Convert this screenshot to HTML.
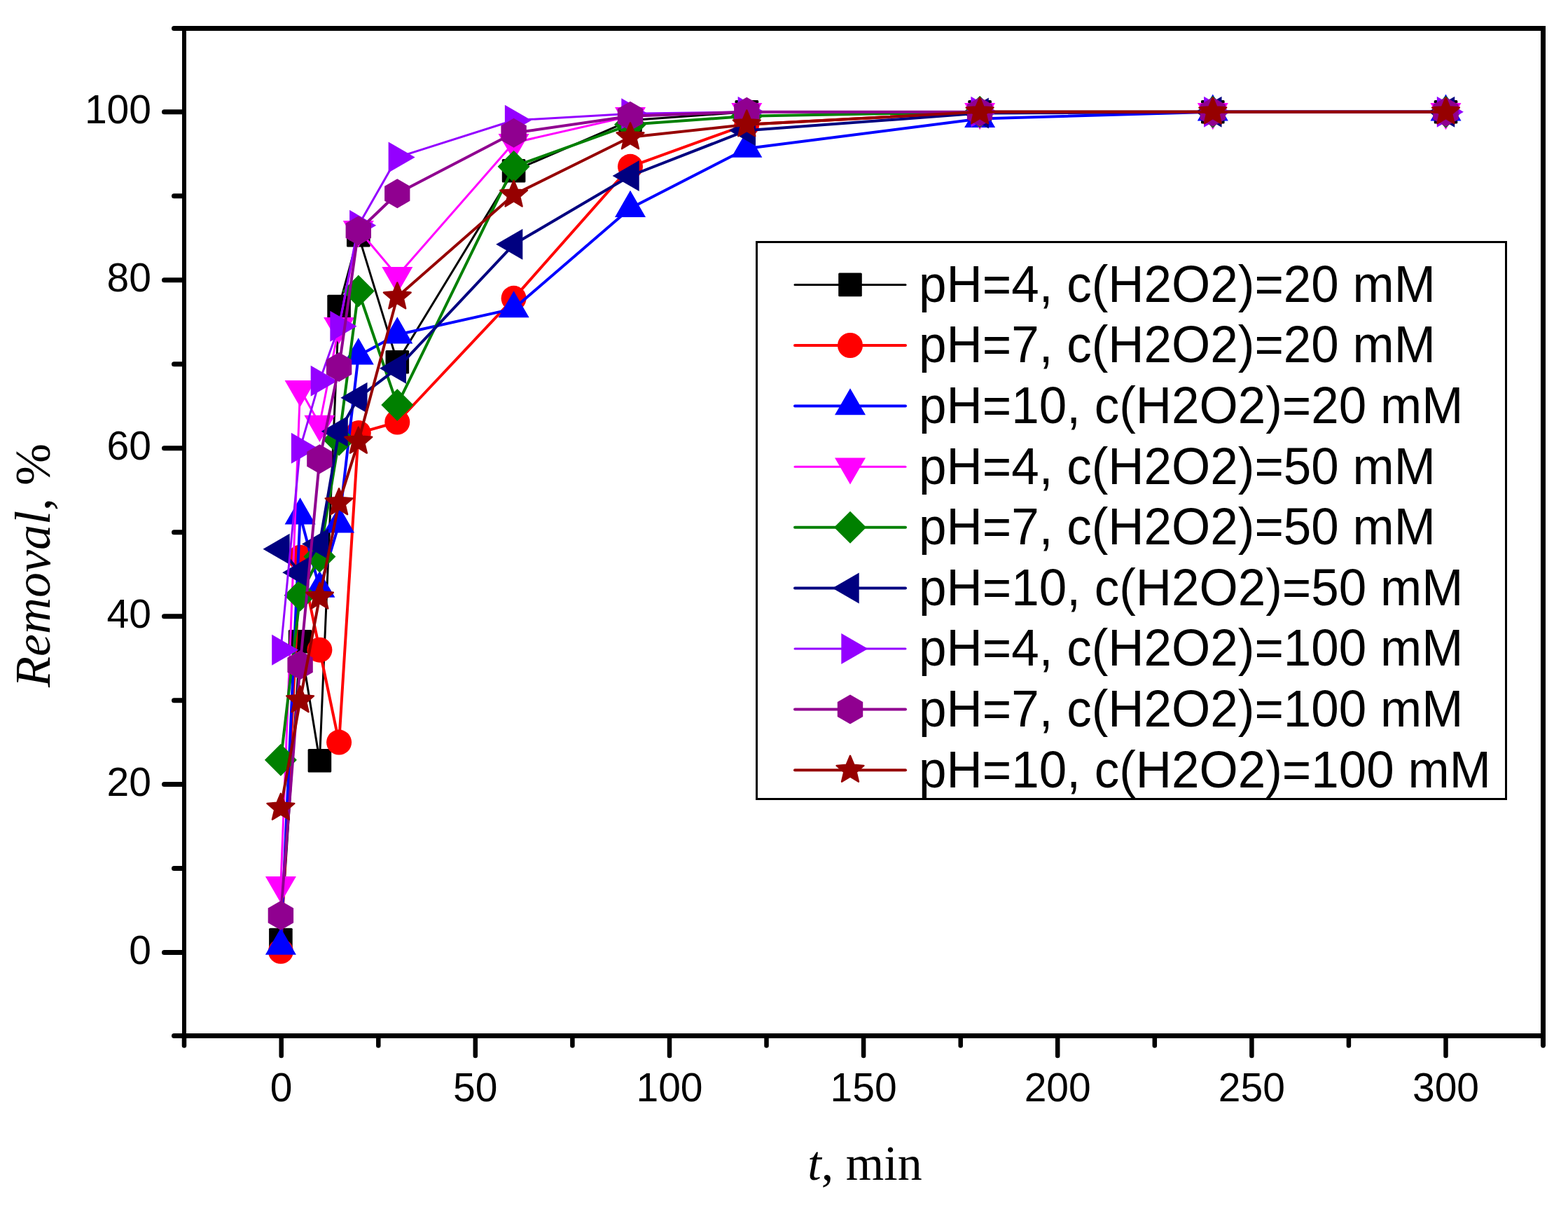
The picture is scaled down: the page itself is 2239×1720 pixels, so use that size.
<!DOCTYPE html><html><head><meta charset="utf-8"><title>Removal vs time</title><style>html,body{margin:0;padding:0;background:#fff;}svg{display:block;}</style></head><body>
<svg width="2239" height="1720" viewBox="0 0 2239 1720">
<rect width="2239" height="1720" fill="#fff"/>
<polyline points="400.9,1341.6 428.6,915.7 456.4,1085.8 484.1,437.6 511.8,335.6 567.3,516.7 733.6,243.8 900.0,171.8 1066.3,159.8 1399.1,159.8 1731.8,159.8 2064.5,159.8" fill="none" stroke="#000000" stroke-width="3.0" stroke-linejoin="round" stroke-linecap="round"/>
<rect x="384.1" y="1324.8" width="33.6" height="33.6" rx="1.5" fill="#000000"/>
<rect x="411.8" y="898.9" width="33.6" height="33.6" rx="1.5" fill="#000000"/>
<rect x="439.6" y="1069.0" width="33.6" height="33.6" rx="1.5" fill="#000000"/>
<rect x="467.3" y="420.8" width="33.6" height="33.6" rx="1.5" fill="#000000"/>
<rect x="495.0" y="318.8" width="33.6" height="33.6" rx="1.5" fill="#000000"/>
<rect x="550.5" y="499.9" width="33.6" height="33.6" rx="1.5" fill="#000000"/>
<rect x="716.8" y="227.0" width="33.6" height="33.6" rx="1.5" fill="#000000"/>
<rect x="883.2" y="155.0" width="33.6" height="33.6" rx="1.5" fill="#000000"/>
<rect x="1049.5" y="143.0" width="33.6" height="33.6" rx="1.5" fill="#000000"/>
<rect x="1382.3" y="143.0" width="33.6" height="33.6" rx="1.5" fill="#000000"/>
<rect x="1715.0" y="143.0" width="33.6" height="33.6" rx="1.5" fill="#000000"/>
<rect x="2047.7" y="143.0" width="33.6" height="33.6" rx="1.5" fill="#000000"/>
<polyline points="400.9,1357.8 428.6,795.7 456.4,927.7 484.1,1059.6 511.8,618.1 567.3,602.5 733.6,425.8 900.0,237.8 1066.3,177.8 1399.1,159.8 1731.8,159.8 2064.5,159.8" fill="none" stroke="#FF0000" stroke-width="4.0" stroke-linejoin="round" stroke-linecap="round"/>
<circle cx="400.9" cy="1357.8" r="18" fill="#FF0000"/>
<circle cx="428.6" cy="795.7" r="18" fill="#FF0000"/>
<circle cx="456.4" cy="927.7" r="18" fill="#FF0000"/>
<circle cx="484.1" cy="1059.6" r="18" fill="#FF0000"/>
<circle cx="511.8" cy="618.1" r="18" fill="#FF0000"/>
<circle cx="567.3" cy="602.5" r="18" fill="#FF0000"/>
<circle cx="733.6" cy="425.8" r="18" fill="#FF0000"/>
<circle cx="900.0" cy="237.8" r="18" fill="#FF0000"/>
<circle cx="1066.3" cy="177.8" r="18" fill="#FF0000"/>
<circle cx="1399.1" cy="159.8" r="18" fill="#FF0000"/>
<circle cx="1731.8" cy="159.8" r="18" fill="#FF0000"/>
<circle cx="2064.5" cy="159.8" r="18" fill="#FF0000"/>
<polyline points="400.9,1350.0 428.6,735.7 456.4,840.1 484.1,747.7 511.8,507.7 567.3,477.7 733.6,440.6 900.0,297.2 1066.3,212.0 1399.1,169.4 1731.8,159.8 2064.5,159.8" fill="none" stroke="#0000FF" stroke-width="4.0" stroke-linejoin="round" stroke-linecap="round"/>
<polygon points="400.9,1324.6 422.9,1362.7 378.9,1362.7" fill="#0000FF"/>
<polygon points="428.6,710.3 450.6,748.4 406.6,748.4" fill="#0000FF"/>
<polygon points="456.4,814.7 478.4,852.8 434.4,852.8" fill="#0000FF"/>
<polygon points="484.1,722.3 506.1,760.4 462.1,760.4" fill="#0000FF"/>
<polygon points="511.8,482.3 533.8,520.4 489.8,520.4" fill="#0000FF"/>
<polygon points="567.3,452.3 589.3,490.4 545.3,490.4" fill="#0000FF"/>
<polygon points="733.6,415.2 755.6,453.3 711.6,453.3" fill="#0000FF"/>
<polygon points="900.0,271.8 922.0,309.9 878.0,309.9" fill="#0000FF"/>
<polygon points="1066.3,186.6 1088.3,224.7 1044.3,224.7" fill="#0000FF"/>
<polygon points="1399.1,144.0 1421.1,182.1 1377.1,182.1" fill="#0000FF"/>
<polygon points="1731.8,134.4 1753.8,172.5 1709.8,172.5" fill="#0000FF"/>
<polygon points="2064.5,134.4 2086.5,172.5 2042.5,172.5" fill="#0000FF"/>
<polyline points="400.9,1263.6 428.6,555.7 456.4,605.5 484.1,465.7 511.8,327.8 567.3,393.8 733.6,203.8 900.0,165.8 1066.3,159.8 1399.1,159.8 1731.8,159.8 2064.5,159.8" fill="none" stroke="#FF00FF" stroke-width="3.0" stroke-linejoin="round" stroke-linecap="round"/>
<polygon points="400.9,1289.0 422.9,1250.9 378.9,1250.9" fill="#FF00FF"/>
<polygon points="428.6,581.1 450.6,543.0 406.6,543.0" fill="#FF00FF"/>
<polygon points="456.4,630.9 478.4,592.8 434.4,592.8" fill="#FF00FF"/>
<polygon points="484.1,491.1 506.1,453.0 462.1,453.0" fill="#FF00FF"/>
<polygon points="511.8,353.2 533.8,315.1 489.8,315.1" fill="#FF00FF"/>
<polygon points="567.3,419.2 589.3,381.1 545.3,381.1" fill="#FF00FF"/>
<polygon points="733.6,229.2 755.6,191.1 711.6,191.1" fill="#FF00FF"/>
<polygon points="900.0,191.2 922.0,153.1 878.0,153.1" fill="#FF00FF"/>
<polygon points="1066.3,185.2 1088.3,147.1 1044.3,147.1" fill="#FF00FF"/>
<polygon points="1399.1,185.2 1421.1,147.1 1377.1,147.1" fill="#FF00FF"/>
<polygon points="1731.8,185.2 1753.8,147.1 1709.8,147.1" fill="#FF00FF"/>
<polygon points="2064.5,185.2 2086.5,147.1 2042.5,147.1" fill="#FF00FF"/>
<polyline points="400.9,1084.8 428.6,849.7 456.4,794.5 484.1,627.7 511.8,415.6 567.3,577.9 733.6,237.8 900.0,177.8 1066.3,165.8 1399.1,159.8 1731.8,159.8 2064.5,159.8" fill="none" stroke="#008000" stroke-width="4.0" stroke-linejoin="round" stroke-linecap="round"/>
<polygon points="400.9,1061.8 423.9,1084.8 400.9,1107.8 377.9,1084.8" fill="#008000"/>
<polygon points="428.6,826.7 451.6,849.7 428.6,872.7 405.6,849.7" fill="#008000"/>
<polygon points="456.4,771.5 479.4,794.5 456.4,817.5 433.4,794.5" fill="#008000"/>
<polygon points="484.1,604.7 507.1,627.7 484.1,650.7 461.1,627.7" fill="#008000"/>
<polygon points="511.8,392.6 534.8,415.6 511.8,438.6 488.8,415.6" fill="#008000"/>
<polygon points="567.3,554.9 590.3,577.9 567.3,600.9 544.3,577.9" fill="#008000"/>
<polygon points="733.6,214.8 756.6,237.8 733.6,260.8 710.6,237.8" fill="#008000"/>
<polygon points="900.0,154.8 923.0,177.8 900.0,200.8 877.0,177.8" fill="#008000"/>
<polygon points="1066.3,142.8 1089.3,165.8 1066.3,188.8 1043.3,165.8" fill="#008000"/>
<polygon points="1399.1,136.8 1422.1,159.8 1399.1,182.8 1376.1,159.8" fill="#008000"/>
<polygon points="1731.8,136.8 1754.8,159.8 1731.8,182.8 1708.8,159.8" fill="#008000"/>
<polygon points="2064.5,136.8 2087.5,159.8 2064.5,182.8 2041.5,159.8" fill="#008000"/>
<polyline points="400.9,783.7 428.6,817.3 456.4,776.5 484.1,615.7 511.8,567.7 567.3,525.7 733.6,348.8 900.0,251.0 1066.3,186.2 1399.1,161.6 1731.8,159.8 2064.5,159.8" fill="none" stroke="#000080" stroke-width="4.0" stroke-linejoin="round" stroke-linecap="round"/>
<polygon points="375.5,783.7 413.6,761.7 413.6,805.7" fill="#000080"/>
<polygon points="403.2,817.3 441.3,795.3 441.3,839.3" fill="#000080"/>
<polygon points="431.0,776.5 469.1,754.5 469.1,798.5" fill="#000080"/>
<polygon points="458.7,615.7 496.8,593.7 496.8,637.7" fill="#000080"/>
<polygon points="486.4,567.7 524.5,545.7 524.5,589.7" fill="#000080"/>
<polygon points="541.9,525.7 580.0,503.7 580.0,547.7" fill="#000080"/>
<polygon points="708.2,348.8 746.3,326.8 746.3,370.8" fill="#000080"/>
<polygon points="874.6,251.0 912.7,229.0 912.7,273.0" fill="#000080"/>
<polygon points="1040.9,186.2 1079.0,164.2 1079.0,208.2" fill="#000080"/>
<polygon points="1373.7,161.6 1411.8,139.6 1411.8,183.6" fill="#000080"/>
<polygon points="1706.4,159.8 1744.5,137.8 1744.5,181.8" fill="#000080"/>
<polygon points="2039.1,159.8 2077.2,137.8 2077.2,181.8" fill="#000080"/>
<polyline points="400.9,927.7 428.6,639.7 456.4,543.7 484.1,465.7 511.8,321.8 567.3,224.6 733.6,171.8 900.0,162.2 1066.3,159.8 1399.1,159.8 1731.8,159.8 2064.5,159.8" fill="none" stroke="#9400FF" stroke-width="3.0" stroke-linejoin="round" stroke-linecap="round"/>
<polygon points="426.3,927.7 388.2,905.7 388.2,949.7" fill="#9400FF"/>
<polygon points="454.0,639.7 415.9,617.7 415.9,661.7" fill="#9400FF"/>
<polygon points="481.8,543.7 443.7,521.7 443.7,565.7" fill="#9400FF"/>
<polygon points="509.5,465.7 471.4,443.7 471.4,487.7" fill="#9400FF"/>
<polygon points="537.2,321.8 499.1,299.8 499.1,343.8" fill="#9400FF"/>
<polygon points="592.7,224.6 554.6,202.6 554.6,246.6" fill="#9400FF"/>
<polygon points="759.0,171.8 720.9,149.8 720.9,193.8" fill="#9400FF"/>
<polygon points="925.4,162.2 887.3,140.2 887.3,184.2" fill="#9400FF"/>
<polygon points="1091.7,159.8 1053.6,137.8 1053.6,181.8" fill="#9400FF"/>
<polygon points="1424.5,159.8 1386.4,137.8 1386.4,181.8" fill="#9400FF"/>
<polygon points="1757.2,159.8 1719.1,137.8 1719.1,181.8" fill="#9400FF"/>
<polygon points="2089.9,159.8 2051.8,137.8 2051.8,181.8" fill="#9400FF"/>
<polyline points="400.9,1306.8 428.6,949.3 456.4,655.3 484.1,523.9 511.8,329.3 567.3,276.2 733.6,189.8 900.0,165.8 1066.3,159.8 1399.1,159.8 1731.8,159.8 2064.5,159.8" fill="none" stroke="#900090" stroke-width="4.0" stroke-linejoin="round" stroke-linecap="round"/>
<polygon points="400.9,1285.8 419.1,1296.3 419.1,1317.3 400.9,1327.8 382.7,1317.3 382.7,1296.3" fill="#900090"/>
<polygon points="428.6,928.3 446.8,938.8 446.8,959.8 428.6,970.3 410.4,959.8 410.4,938.8" fill="#900090"/>
<polygon points="456.4,634.3 474.5,644.8 474.5,665.8 456.4,676.3 438.2,665.8 438.2,644.8" fill="#900090"/>
<polygon points="484.1,502.9 502.3,513.4 502.3,534.4 484.1,544.9 465.9,534.4 465.9,513.4" fill="#900090"/>
<polygon points="511.8,308.3 530.0,318.8 530.0,339.8 511.8,350.3 493.6,339.8 493.6,318.8" fill="#900090"/>
<polygon points="567.3,255.2 585.4,265.7 585.4,286.7 567.3,297.2 549.1,286.7 549.1,265.7" fill="#900090"/>
<polygon points="733.6,168.8 751.8,179.3 751.8,200.3 733.6,210.8 715.4,200.3 715.4,179.3" fill="#900090"/>
<polygon points="900.0,144.8 918.2,155.3 918.2,176.3 900.0,186.8 881.8,176.3 881.8,155.3" fill="#900090"/>
<polygon points="1066.3,138.8 1084.5,149.3 1084.5,170.3 1066.3,180.8 1048.1,170.3 1048.1,149.3" fill="#900090"/>
<polygon points="1399.1,138.8 1417.2,149.3 1417.2,170.3 1399.1,180.8 1380.9,170.3 1380.9,149.3" fill="#900090"/>
<polygon points="1731.8,138.8 1750.0,149.3 1750.0,170.3 1731.8,180.8 1713.6,170.3 1713.6,149.3" fill="#900090"/>
<polygon points="2064.5,138.8 2082.7,149.3 2082.7,170.3 2064.5,180.8 2046.3,170.3 2046.3,149.3" fill="#900090"/>
<polyline points="400.9,1153.2 428.6,999.7 456.4,852.1 484.1,717.7 511.8,630.1 567.3,423.8 733.6,278.0 900.0,195.8 1066.3,177.8 1399.1,159.8 1731.8,159.8 2064.5,159.8" fill="none" stroke="#960000" stroke-width="4.0" stroke-linejoin="round" stroke-linecap="round"/>
<polygon points="400.9,1132.8 406.3,1145.8 420.3,1146.9 409.6,1156.1 412.9,1169.7 400.9,1162.4 388.9,1169.7 392.2,1156.1 381.5,1146.9 395.5,1145.8" fill="#960000" stroke="#960000" stroke-width="2.4" stroke-linejoin="round"/>
<polygon points="428.6,979.3 434.0,992.2 448.0,993.4 437.4,1002.5 440.6,1016.2 428.6,1008.8 416.6,1016.2 419.9,1002.5 409.2,993.4 423.2,992.2" fill="#960000" stroke="#960000" stroke-width="2.4" stroke-linejoin="round"/>
<polygon points="456.4,831.7 461.7,844.7 475.8,845.8 465.1,854.9 468.3,868.6 456.4,861.3 444.4,868.6 447.6,854.9 437.0,845.8 451.0,844.7" fill="#960000" stroke="#960000" stroke-width="2.4" stroke-linejoin="round"/>
<polygon points="484.1,697.3 489.5,710.3 503.5,711.4 492.8,720.5 496.1,734.2 484.1,726.9 472.1,734.2 475.3,720.5 464.7,711.4 478.7,710.3" fill="#960000" stroke="#960000" stroke-width="2.4" stroke-linejoin="round"/>
<polygon points="511.8,609.7 517.2,622.7 531.2,623.8 520.5,633.0 523.8,646.6 511.8,639.3 499.8,646.6 503.1,633.0 492.4,623.8 506.4,622.7" fill="#960000" stroke="#960000" stroke-width="2.4" stroke-linejoin="round"/>
<polygon points="567.3,403.4 572.7,416.3 586.7,417.5 576.0,426.6 579.2,440.3 567.3,432.9 555.3,440.3 558.5,426.6 547.9,417.5 561.9,416.3" fill="#960000" stroke="#960000" stroke-width="2.4" stroke-linejoin="round"/>
<polygon points="733.6,257.6 739.0,270.6 753.0,271.7 742.3,280.8 745.6,294.5 733.6,287.2 721.6,294.5 724.9,280.8 714.2,271.7 728.2,270.6" fill="#960000" stroke="#960000" stroke-width="2.4" stroke-linejoin="round"/>
<polygon points="900.0,175.4 905.4,188.4 919.4,189.5 908.7,198.6 912.0,212.3 900.0,205.0 888.0,212.3 891.2,198.6 880.6,189.5 894.6,188.4" fill="#960000" stroke="#960000" stroke-width="2.4" stroke-linejoin="round"/>
<polygon points="1066.3,157.4 1071.7,170.4 1085.7,171.5 1075.1,180.6 1078.3,194.3 1066.3,187.0 1054.3,194.3 1057.6,180.6 1046.9,171.5 1060.9,170.4" fill="#960000" stroke="#960000" stroke-width="2.4" stroke-linejoin="round"/>
<polygon points="1399.1,139.4 1404.4,152.4 1418.5,153.5 1407.8,162.6 1411.0,176.3 1399.1,169.0 1387.1,176.3 1390.3,162.6 1379.7,153.5 1393.7,152.4" fill="#960000" stroke="#960000" stroke-width="2.4" stroke-linejoin="round"/>
<polygon points="1731.8,139.4 1737.2,152.4 1751.2,153.5 1740.5,162.6 1743.8,176.3 1731.8,169.0 1719.8,176.3 1723.0,162.6 1712.4,153.5 1726.4,152.4" fill="#960000" stroke="#960000" stroke-width="2.4" stroke-linejoin="round"/>
<polygon points="2064.5,139.4 2069.9,152.4 2083.9,153.5 2073.2,162.6 2076.5,176.3 2064.5,169.0 2052.5,176.3 2055.8,162.6 2045.1,153.5 2059.1,152.4" fill="#960000" stroke="#960000" stroke-width="2.4" stroke-linejoin="round"/>
<g stroke="#000" stroke-linecap="round" fill="none">
<line x1="248" y1="40.5" x2="2203.5" y2="40.5" stroke-width="7" stroke-linecap="butt"/>
<line x1="248" y1="1478.5" x2="2203.5" y2="1478.5" stroke-width="7" stroke-linecap="butt"/>
<line x1="263" y1="37" x2="263" y2="1493" stroke-width="6" stroke-linecap="butt"/>
<line x1="2203.5" y1="37" x2="2203.5" y2="1493" stroke-width="7" stroke-linecap="butt"/>
<line x1="248.5" y1="1478.5" x2="260" y2="1478.5" stroke-width="7"/>
<line x1="234.5" y1="1359.6" x2="260" y2="1359.6" stroke-width="7"/>
<line x1="248.5" y1="1239.6" x2="260" y2="1239.6" stroke-width="7"/>
<line x1="234.5" y1="1119.6" x2="260" y2="1119.6" stroke-width="7"/>
<line x1="248.5" y1="999.7" x2="260" y2="999.7" stroke-width="7"/>
<line x1="234.5" y1="879.7" x2="260" y2="879.7" stroke-width="7"/>
<line x1="248.5" y1="759.7" x2="260" y2="759.7" stroke-width="7"/>
<line x1="234.5" y1="639.7" x2="260" y2="639.7" stroke-width="7"/>
<line x1="248.5" y1="519.7" x2="260" y2="519.7" stroke-width="7"/>
<line x1="234.5" y1="399.8" x2="260" y2="399.8" stroke-width="7"/>
<line x1="248.5" y1="279.8" x2="260" y2="279.8" stroke-width="7"/>
<line x1="234.5" y1="159.8" x2="260" y2="159.8" stroke-width="7"/>
<line x1="248.5" y1="40.5" x2="260" y2="40.5" stroke-width="7"/>
<line x1="263.0" y1="1482" x2="263.0" y2="1492.5" stroke-width="6.5"/>
<line x1="401.7" y1="1482" x2="401.7" y2="1507" stroke-width="6.5"/>
<line x1="540.3" y1="1482" x2="540.3" y2="1492.5" stroke-width="6.5"/>
<line x1="678.8" y1="1482" x2="678.8" y2="1507" stroke-width="6.5"/>
<line x1="817.4" y1="1482" x2="817.4" y2="1492.5" stroke-width="6.5"/>
<line x1="956.0" y1="1482" x2="956.0" y2="1507" stroke-width="6.5"/>
<line x1="1094.5" y1="1482" x2="1094.5" y2="1492.5" stroke-width="6.5"/>
<line x1="1233.1" y1="1482" x2="1233.1" y2="1507" stroke-width="6.5"/>
<line x1="1371.7" y1="1482" x2="1371.7" y2="1492.5" stroke-width="6.5"/>
<line x1="1510.2" y1="1482" x2="1510.2" y2="1507" stroke-width="6.5"/>
<line x1="1648.8" y1="1482" x2="1648.8" y2="1492.5" stroke-width="6.5"/>
<line x1="1787.4" y1="1482" x2="1787.4" y2="1507" stroke-width="6.5"/>
<line x1="1925.9" y1="1482" x2="1925.9" y2="1492.5" stroke-width="6.5"/>
<line x1="2064.5" y1="1482" x2="2064.5" y2="1507" stroke-width="6.5"/>
<line x1="2203.5" y1="1482" x2="2203.5" y2="1492.5" stroke-width="6.5"/>
</g>
<g font-family="Liberation Sans, Arial, sans-serif" font-size="57" fill="#000">
<text x="216" y="1375.6" text-anchor="end">0</text>
<text x="216" y="1135.6" text-anchor="end">20</text>
<text x="216" y="895.7" text-anchor="end">40</text>
<text x="216" y="655.7" text-anchor="end">60</text>
<text x="216" y="415.8" text-anchor="end">80</text>
<text x="216" y="175.8" text-anchor="end">100</text>
<text x="401.7" y="1572" text-anchor="middle">0</text>
<text x="678.8" y="1572" text-anchor="middle">50</text>
<text x="956.0" y="1572" text-anchor="middle">100</text>
<text x="1233.1" y="1572" text-anchor="middle">150</text>
<text x="1510.2" y="1572" text-anchor="middle">200</text>
<text x="1787.4" y="1572" text-anchor="middle">250</text>
<text x="2064.5" y="1572" text-anchor="middle">300</text>
</g>
<text x="1235" y="1684" text-anchor="middle" font-family="Liberation Serif, Times New Roman, serif" font-size="70"><tspan font-style="italic">t</tspan>, min</text>
<text transform="translate(71,807) rotate(-90)" text-anchor="middle" font-family="Liberation Serif, Times New Roman, serif" font-size="72"><tspan font-style="italic">Removal</tspan>, %</text>
<rect x="1080.5" y="345.5" width="1070" height="795" fill="#fff" stroke="#000" stroke-width="3"/>
<line x1="1135" y1="406.4" x2="1293" y2="406.4" stroke="#000000" stroke-width="3.0" stroke-linecap="round"/>
<rect x="1197.2" y="389.6" width="33.6" height="33.6" rx="1.5" fill="#000000"/>
<text transform="translate(1312,430.7) scale(1,1.045)" font-family="Liberation Sans, Arial, sans-serif" font-size="71" fill="#000">pH=4, c(H2O2)=20 mM</text>
<line x1="1135" y1="493.0" x2="1293" y2="493.0" stroke="#FF0000" stroke-width="4.0" stroke-linecap="round"/>
<circle cx="1214.0" cy="493.0" r="18" fill="#FF0000"/>
<text transform="translate(1312,517.3) scale(1,1.045)" font-family="Liberation Sans, Arial, sans-serif" font-size="71" fill="#000">pH=7, c(H2O2)=20 mM</text>
<line x1="1135" y1="579.6" x2="1293" y2="579.6" stroke="#0000FF" stroke-width="4.0" stroke-linecap="round"/>
<polygon points="1214.0,554.2 1236.0,592.3 1192.0,592.3" fill="#0000FF"/>
<text transform="translate(1312,603.9) scale(1,1.045)" font-family="Liberation Sans, Arial, sans-serif" font-size="71" fill="#000">pH=10, c(H2O2)=20 mM</text>
<line x1="1135" y1="666.2" x2="1293" y2="666.2" stroke="#FF00FF" stroke-width="3.0" stroke-linecap="round"/>
<polygon points="1214.0,691.6 1236.0,653.5 1192.0,653.5" fill="#FF00FF"/>
<text transform="translate(1312,690.5) scale(1,1.045)" font-family="Liberation Sans, Arial, sans-serif" font-size="71" fill="#000">pH=4, c(H2O2)=50 mM</text>
<line x1="1135" y1="752.8" x2="1293" y2="752.8" stroke="#008000" stroke-width="4.0" stroke-linecap="round"/>
<polygon points="1214.0,729.8 1237.0,752.8 1214.0,775.8 1191.0,752.8" fill="#008000"/>
<text transform="translate(1312,777.1) scale(1,1.045)" font-family="Liberation Sans, Arial, sans-serif" font-size="71" fill="#000">pH=7, c(H2O2)=50 mM</text>
<line x1="1135" y1="839.4" x2="1293" y2="839.4" stroke="#000080" stroke-width="4.0" stroke-linecap="round"/>
<polygon points="1188.6,839.4 1226.7,817.4 1226.7,861.4" fill="#000080"/>
<text transform="translate(1312,863.7) scale(1,1.045)" font-family="Liberation Sans, Arial, sans-serif" font-size="71" fill="#000">pH=10, c(H2O2)=50 mM</text>
<line x1="1135" y1="926.0" x2="1293" y2="926.0" stroke="#9400FF" stroke-width="3.0" stroke-linecap="round"/>
<polygon points="1239.4,926.0 1201.3,904.0 1201.3,948.0" fill="#9400FF"/>
<text transform="translate(1312,950.3) scale(1,1.045)" font-family="Liberation Sans, Arial, sans-serif" font-size="71" fill="#000">pH=4, c(H2O2)=100 mM</text>
<line x1="1135" y1="1012.6" x2="1293" y2="1012.6" stroke="#900090" stroke-width="4.0" stroke-linecap="round"/>
<polygon points="1214.0,991.6 1232.2,1002.1 1232.2,1023.1 1214.0,1033.6 1195.8,1023.1 1195.8,1002.1" fill="#900090"/>
<text transform="translate(1312,1036.9) scale(1,1.045)" font-family="Liberation Sans, Arial, sans-serif" font-size="71" fill="#000">pH=7, c(H2O2)=100 mM</text>
<line x1="1135" y1="1099.2" x2="1293" y2="1099.2" stroke="#960000" stroke-width="4.0" stroke-linecap="round"/>
<polygon points="1214.0,1078.8 1219.4,1091.8 1233.4,1092.9 1222.7,1102.0 1226.0,1115.7 1214.0,1108.4 1202.0,1115.7 1205.3,1102.0 1194.6,1092.9 1208.6,1091.8" fill="#960000" stroke="#960000" stroke-width="2.4" stroke-linejoin="round"/>
<text transform="translate(1312,1123.5) scale(1,1.045)" font-family="Liberation Sans, Arial, sans-serif" font-size="71" fill="#000">pH=10, c(H2O2)=100 mM</text>
</svg></body></html>
